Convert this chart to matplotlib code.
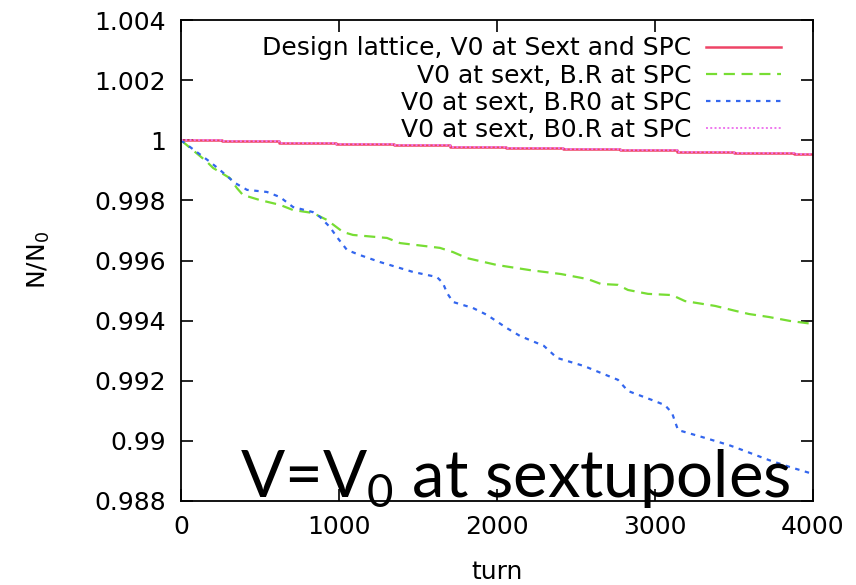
import matplotlib
matplotlib.use("Agg")
import matplotlib.pyplot as plt

# particle survival N/N0 versus turn number
design_turn = [0, 260, 620, 980, 1350, 1700, 2060, 2420, 2780, 3140, 3500, 3880, 4000]
design_frac = [1.0, 0.99996, 0.99991, 0.99987, 0.99983, 0.99979, 0.99975,
               0.99970, 0.99966, 0.99962, 0.99958, 0.99953, 0.99953]

b0r_turn = design_turn
b0r_frac = design_frac

br_turn = [0, 165, 203, 310, 354, 392, 500, 627, 709, 835, 924, 1025, 1089, 1304,
           1386, 1639, 1722, 1810, 2000, 2209, 2405, 2576, 2658, 2766, 2829, 2956,
           3108, 3190, 3380, 3513, 3595, 3722, 3854, 4000]
br_frac = [1.0, 0.99928, 0.99908, 0.99874, 0.99841, 0.99818, 0.99801, 0.99785,
           0.99768, 0.99758, 0.99735, 0.99695, 0.99685, 0.99675, 0.99658, 0.99642,
           0.99628, 0.99608, 0.99585, 0.99568, 0.99555, 0.99538, 0.99522, 0.99519,
           0.99502, 0.99489, 0.99485, 0.99465, 0.99449, 0.99432, 0.99422, 0.99412,
           0.99399, 0.99389]

br0_turn = [0, 184, 247, 342, 418, 544, 627, 709, 835, 880, 943, 987, 1051, 1133,
            1259, 1468, 1620, 1658, 1684, 1722, 1848, 1937, 2063, 2146, 2297, 2380,
            2551, 2658, 2766, 2829, 2981, 3063, 3108, 3146, 3297, 3468, 3551, 3722,
            3854, 4000]
br0_frac = [1.0, 0.99928, 0.99901, 0.99858, 0.99835, 0.99828, 0.99811, 0.99778,
            0.99761, 0.99745, 0.99711, 0.99678, 0.99635, 0.99618, 0.99595, 0.99562,
            0.99545, 0.99525, 0.99492, 0.99462, 0.99442, 0.99419, 0.99375, 0.99349,
            0.99316, 0.99276, 0.99249, 0.99226, 0.99203, 0.99166, 0.99136, 0.99119,
            0.99093, 0.99036, 0.99013, 0.98986, 0.98970, 0.98936, 0.98913, 0.98890]

labels = ["Design lattice, V0 at Sext and SPC",
          "V0 at sext, B.R at SPC",
          "V0 at sext, B.R0 at SPC",
          "V0 at sext, B0.R at SPC"]
x_ticks = [0, 1000, 2000, 3000, 4000]
y_ticks = [0.988, 0.99, 0.992, 0.994, 0.996, 0.998, 1.0, 1.002, 1.004]
y_ticklabels = ["0.988", "0.99", "0.992", "0.994", "0.996", "0.998", "1", "1.002", "1.004"]

plt.rcParams["font.family"] = "DejaVu Sans"
fs = 18

fig = plt.figure(figsize=(8.56, 5.85), dpi=100)
ax = fig.add_axes([0.2114, 0.1436, 0.7383, 0.8222])

ax.plot(design_turn, design_frac, drawstyle="steps-post", color="#ee4466", lw=1.8, label=labels[0])
ax.plot(br_turn, br_frac, color="#77dd33", lw=1.6, dashes=(5, 3), label=labels[1])
ax.plot(br0_turn, br0_frac, color="#3366ee", lw=1.6, dashes=(2, 2.5), label=labels[2])
ax.plot(b0r_turn, b0r_frac, drawstyle="steps-post", color="#ee77ee", lw=1.4,
        dashes=(1, 1.2), label=labels[3])

ax.set_xlim(0, 4000)
ax.set_ylim(0.988, 1.004)
ax.set_xticks(x_ticks)
ax.set_yticks(y_ticks)
ax.set_yticklabels(y_ticklabels)
ax.tick_params(direction="in", length=8.5, width=1.2, top=True, right=True,
               labelsize=fs)
ax.tick_params(axis="y", pad=11)
ax.tick_params(axis="x", pad=10)
for s in ax.spines.values():
    s.set_linewidth(1.3)

ax.set_xlabel("turn", fontsize=fs, labelpad=15)
ax.set_ylabel("N/N$_0$", fontsize=fs, labelpad=30)

ax.legend(loc="upper right", frameon=False, markerfirst=False, fontsize=fs,
          handlelength=3.0, handletextpad=0.6, labelspacing=0.13,
          borderaxespad=0.0, borderpad=0.0, bbox_to_anchor=(0.95, 0.966))

plt.rcParams["mathtext.fontset"] = "custom"
plt.rcParams["mathtext.rm"] = "Lato"
fig.text(0.923, 0.150, "V=V$_\\mathrm{0}$ at sextupoles", family="Lato",
         fontsize=47, ha="right", va="baseline", color="black")

fig.savefig("out.png", dpi=100)
